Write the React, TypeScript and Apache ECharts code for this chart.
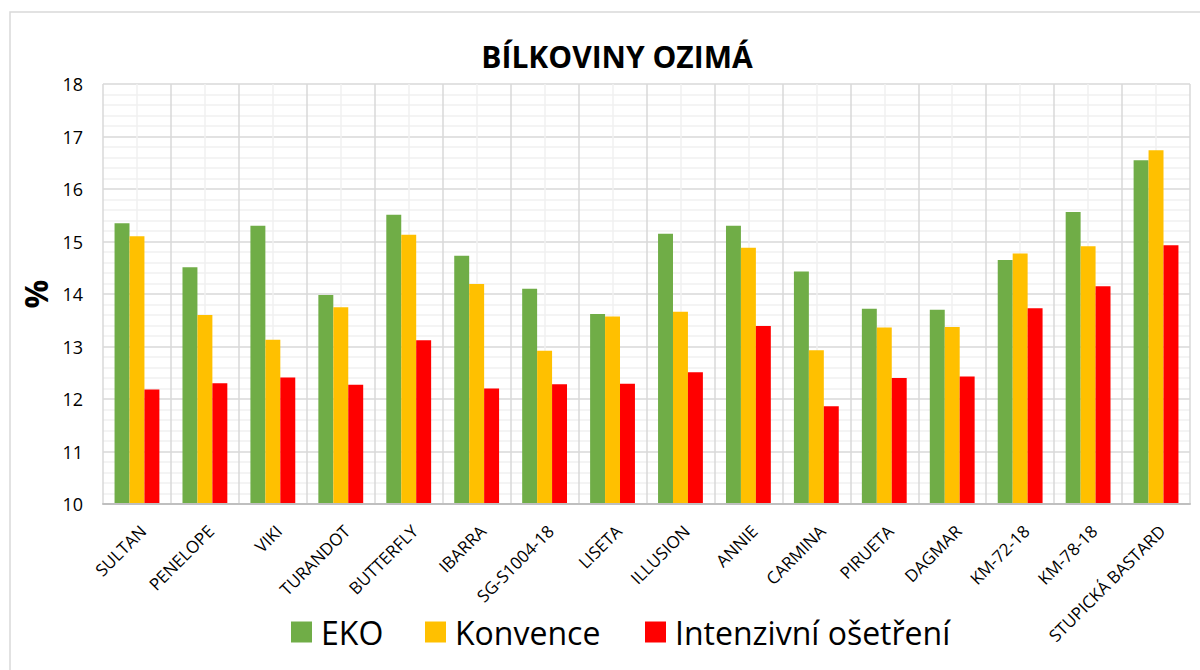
import React, { useEffect, useRef } from "react";
import * as echarts from "echarts";

const categories = [
  "SULTAN", "PENELOPE", "VIKI", "TURANDOT", "BUTTERFLY", "IBARRA", "SG-S1004-18", "LISETA",
  "ILLUSION", "ANNIE", "CARMINA", "PIRUETA", "DAGMAR", "KM-72-18", "KM-78-18", "STUPICKÁ BASTARD",
];
const eko = [15.35, 14.51, 15.3, 13.98, 15.51, 14.73, 14.1, 13.62, 15.15, 15.3, 14.43, 13.72, 13.7, 14.65, 15.56, 16.55];
const konvence = [15.1, 13.6, 13.13, 13.75, 15.13, 14.19, 12.92, 13.57, 13.66, 14.88, 12.93, 13.36, 13.37, 14.77, 14.91, 16.74];
const intenzivni = [12.18, 12.3, 12.41, 12.27, 13.12, 12.2, 12.28, 12.29, 12.51, 13.39, 11.86, 12.4, 12.43, 13.73, 14.15, 14.93];
const seriesNames = ["EKO", "Konvence", "Intenzivní ošetření"];
const colors = ["#70AD47", "#FFC000", "#FF0000"];

const FONT = "'Open Sans', 'Noto Sans', sans-serif";

export default function App() {
  const ref = useRef<HTMLDivElement>(null);
  useEffect(() => {
    document.body.style.margin = "0";
    const chart = echarts.init(ref.current!, null, { renderer: "svg" });
    const values = [eko, konvence, intenzivni];
    const legendLefts = [286, 420, 640];
    chart.setOption({
      animation: false,
      backgroundColor: "#ffffff",
      title: {
        text: "BÍLKOVINY OZIMÁ",
        left: 612,
        textAlign: "center",
        top: 36,
        textStyle: { fontFamily: FONT, fontSize: 30, fontWeight: "bold", color: "#000" },
      },
      graphic: [
        {
          type: "rect",
          shape: { x: 10, y: 12, width: 1200, height: 700 },
          style: { fill: "none", stroke: "#d9d9d9", lineWidth: 1.5 },
          silent: true,
          z: -10,
        },
      ],
      legend: seriesNames.map((name, i) => ({
        left: legendLefts[i],
        top: 611,
        itemWidth: 21,
        itemHeight: 21,
        icon: "rect",
        data: [name],
        textStyle: { fontFamily: FONT, fontSize: 32, color: "#000", padding: [0, 0, 0, 4] },
      })),
      grid: { left: 103, right: 10, top: 84, bottom: 166, containLabel: false },
      xAxis: [
        {
          type: "category",
          data: categories,
          axisLine: { show: true, lineStyle: { color: "#bfbfbf", width: 2 } },
          axisTick: { show: false },
          splitLine: { show: false },
          axisLabel: {
            rotate: 45,
            interval: 0,
            fontFamily: FONT,
            fontSize: 17,
            color: "#000",
            margin: 18,
            verticalAlign: "top",
          },
          z: 5,
        },
        {
          type: "value",
          min: 0,
          max: 16,
          interval: 0.5,
          show: true,
          axisLine: { show: false },
          axisTick: { show: false },
          axisLabel: { show: false },
          splitLine: { show: true, lineStyle: { color: ["#d9d9d9", "#f0f0f0"], width: 1.5 } },
        },
      ],
      yAxis: {
        type: "value",
        min: 10,
        max: 18,
        interval: 1,
        name: "%",
        nameLocation: "middle",
        nameRotate: 90,
        nameGap: 52,
        nameTextStyle: { fontFamily: FONT, fontSize: 32, fontWeight: "bold", color: "#000" },
        axisLine: { show: false },
        axisTick: { show: false },
        axisLabel: { fontFamily: FONT, fontSize: 18, color: "#000", margin: 20 },
        splitLine: { show: true, lineStyle: { color: "#d9d9d9", width: 1.5 } },
        minorTick: { show: false, splitNumber: 5 },
        minorSplitLine: { show: true, lineStyle: { color: "#f0f0f0", width: 1.5 } },
      },
      series: seriesNames.map((name, i) => ({
        name,
        type: "bar",
        xAxisIndex: 0,
        data: values[i],
        barGap: "0%",
        barCategoryGap: "34%",
        itemStyle: { color: colors[i] },
        z: 3,
      })),
    });
    return () => chart.dispose();
  }, []);
  return <div ref={ref} style={{ width: 1200, height: 670 }} />;
}
